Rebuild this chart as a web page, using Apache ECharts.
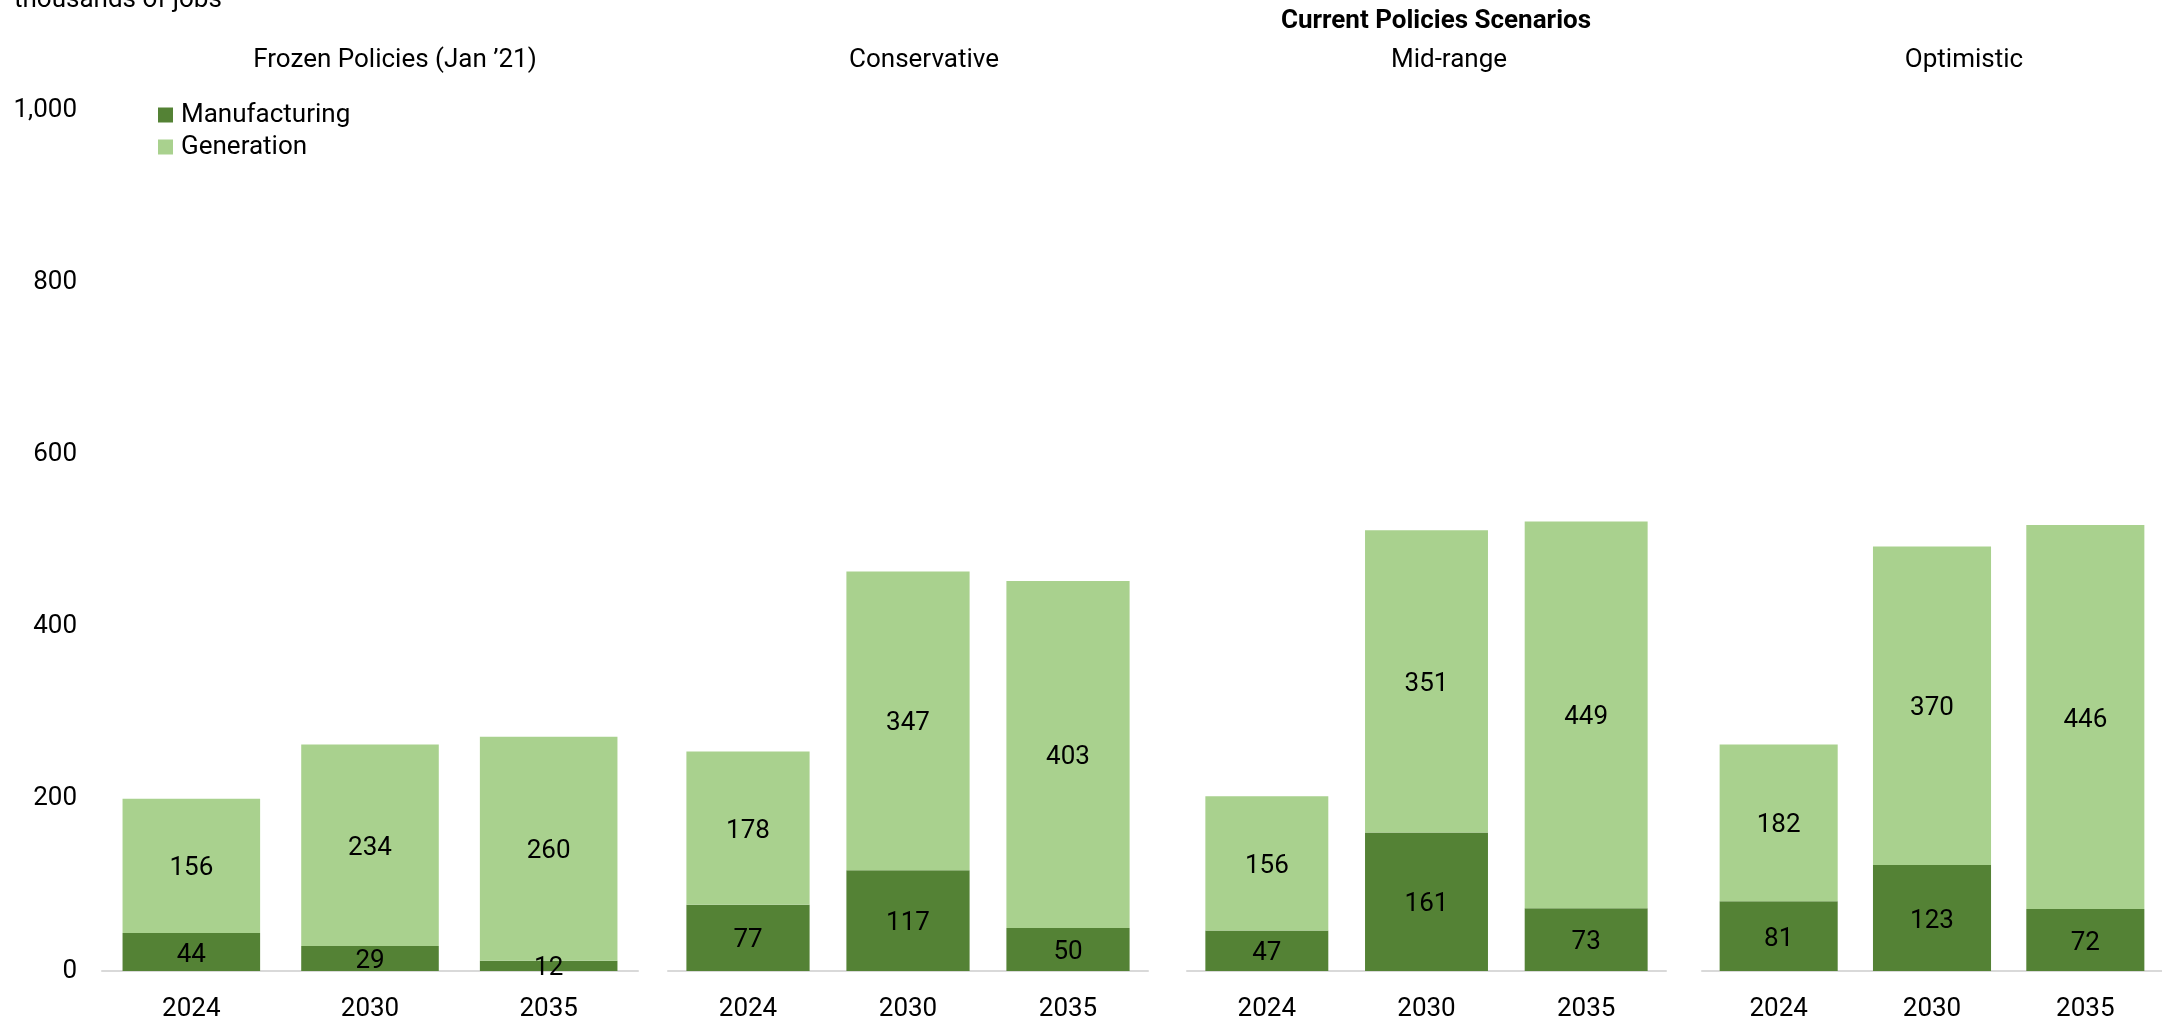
<!DOCTYPE html>
<html>
<head>
<meta charset="utf-8">
<script src="https://cdn.jsdelivr.net/npm/echarts@6/dist/echarts.min.js"></script>
<style>
html,body{margin:0;padding:0;background:#fff;}
#chart{width:2162px;height:1022px;}
</style>
</head>
<body>
<div id="chart"></div>
<script>
const years = ['2024', '2030', '2035'];
const scenarios = ['Frozen Policies (Jan ’21)', 'Conservative', 'Mid-range', 'Optimistic'];
const seriesNames = ['Manufacturing', 'Generation'];
const yTicks = [0, 200, 400, 600, 800, 1000];

const frozenManufacturing = [44, 29, 12];
const frozenGeneration = [156, 234, 260];
const conservativeManufacturing = [77, 117, 50];
const conservativeGeneration = [178, 347, 403];
const midrangeManufacturing = [47, 161, 73];
const midrangeGeneration = [156, 351, 449];
const optimisticManufacturing = [81, 123, 72];
const optimisticGeneration = [182, 370, 446];

const manufacturingByPanel = [frozenManufacturing, conservativeManufacturing, midrangeManufacturing, optimisticManufacturing];
const generationByPanel = [frozenGeneration, conservativeGeneration, midrangeGeneration, optimisticGeneration];

const FONT = 'Roboto';
const FS = 26;
const DARK = '#548235';
const LIGHT = '#A9D18E';

// layout (pixels)
const panels = [
  {left: 102, width: 536, bottom: 49, titleX: 395},
  {left: 668, width: 480, bottom: 49.5, titleX: 924},
  {left: 1187, width: 479, bottom: 50, titleX: 1449},
  {left: 1702, width: 480, bottom: 51, titleX: 1964}
];

const grids = [], xAxes = [], yAxes = [], series = [];
panels.forEach((p, i) => {
  grids.push({left: p.left, width: p.width, top: 110, bottom: p.bottom, containLabel: false});
  xAxes.push({
    type: 'category', gridIndex: i, data: years,
    axisLine: {show: true, lineStyle: {color: '#d9d9d9', width: 2}},
    axisTick: {show: false},
    axisLabel: {fontFamily: FONT, fontSize: FS, color: '#000', margin: 25},
    z: 0
  });
  yAxes.push({
    type: 'value', gridIndex: i, min: yTicks[0], max: yTicks[yTicks.length - 1], interval: 200,
    splitLine: {show: false},
    axisLine: {show: false}, axisTick: {show: false},
    axisLabel: {
      show: i === 0, fontFamily: FONT, fontSize: FS, color: '#000', margin: 25,
      formatter: v => v.toLocaleString('en-US')
    }
  });
  const lbl = {show: true, position: 'inside', offset: [0, 3], fontFamily: FONT, fontSize: FS, color: '#000'};
  series.push({
    name: seriesNames[0], type: 'bar', stack: 's' + i, xAxisIndex: i, yAxisIndex: i,
    data: manufacturingByPanel[i], barCategoryGap: '23%',
    itemStyle: {color: DARK}, label: lbl, z: 3
  });
  series.push({
    name: seriesNames[1], type: 'bar', stack: 's' + i, xAxisIndex: i, yAxisIndex: i,
    data: generationByPanel[i], barCategoryGap: '23%',
    itemStyle: {color: LIGHT}, label: lbl, z: 3
  });
});

const graphics = [
  {type: 'text', left: 14, top: -13, style: {text: 'thousands of jobs', font: `${FS}px ${FONT}`, fill: '#000'}},
  {type: 'text', x: 1436, y: 21, style: {text: 'Current Policies Scenarios', font: `bold 26px ${FONT}`, fill: '#000', textAlign: 'center', textVerticalAlign: 'middle'}}
];
panels.forEach((p, i) => {
  graphics.push({type: 'text', x: p.titleX, y: 60, style: {text: scenarios[i], font: `${FS}px ${FONT}`, fill: '#000', textAlign: 'center', textVerticalAlign: 'middle'}});
});

const chart = echarts.init(document.getElementById('chart'), null, {renderer: 'canvas'});
chart.setOption({
  animation: false,
  backgroundColor: '#fff',
  grid: grids,
  xAxis: xAxes,
  yAxis: yAxes,
  series: series,
  legend: {
    data: seriesNames, orient: 'vertical', left: 153, top: 97,
    icon: 'rect', itemWidth: 15, itemHeight: 15, itemGap: 6,
    textStyle: {fontFamily: FONT, fontSize: FS, color: '#000', padding: [0, 0, 0, 3]}
  },
  graphic: graphics
});
</script>
</body>
</html>
